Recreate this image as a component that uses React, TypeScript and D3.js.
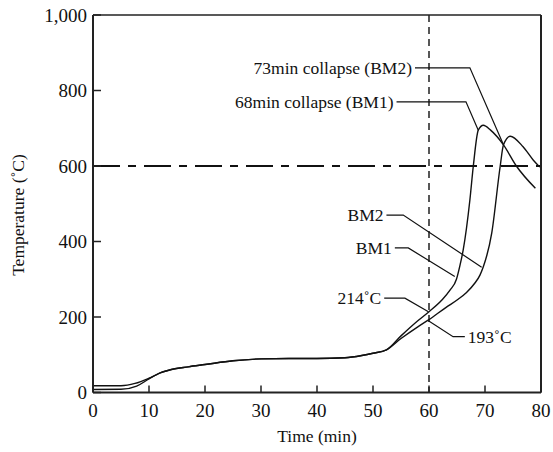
import React from "react";
import * as d3 from "d3";

const xTicks = [0, 10, 20, 30, 40, 50, 60, 70, 80];
const yTicks = [0, 200, 400, 600, 800, 1000];

const bm1Time = [0, 5, 7.5, 10, 12, 14, 17, 20, 25, 30, 35, 40, 45, 48, 50, 52.4, 55, 58, 60, 62.3, 63.75, 64.9, 65.5, 66.1, 67.3, 67.9, 68.8, 69.7, 71, 73.3, 75.6, 79];
const bm1Temp = [18, 18, 24, 38, 52, 61, 68, 74, 84, 89, 90, 90, 92, 98, 104, 113, 150, 190, 214, 245, 271, 300, 335, 377, 510, 598, 695, 708, 695, 656, 600, 541];

const bm2Time = [0, 5, 7.8, 10, 12, 14, 17, 20, 25, 30, 35, 40, 45, 48, 50, 52.4, 55, 58, 60, 63, 65.2, 66.7, 68.2, 69.1, 69.7, 71.2, 72.7, 73.3, 74.5, 76.8, 78.6, 79.8];
const bm2Temp = [8, 8.5, 17, 36, 52, 61, 68, 74, 84, 89, 90, 90, 92, 98, 104, 113, 143, 174, 193, 225, 247, 265, 290, 311, 333, 422, 598, 656, 679, 651, 616, 597];

// annotation labels: text and leader path in data units
const labelTexts = ["73min collapse (BM2)", "68min collapse (BM1)", "BM2", "BM1", "214˚C", "193˚C"];
const labelLeaders: number[][][] = [
  [[57.5, 860], [67.3, 860], [73.3, 656]],
  [[54.2, 770], [66.6, 770], [68.8, 695]],
  [[52.4, 470], [55.4, 470], [69.4, 332]],
  [[53.9, 383], [56.3, 383], [64.6, 307]],
  [[52.0, 250], [55.7, 250], [59.9, 214]],
  [[66.4, 148], [64.3, 148], [59.9, 190]],
];
const labelSide = ["end", "end", "end", "end", "end", "start"];

const refTime = 60;
const refTemp = 600;

export default function App() {
  const W = 553, H = 452;
  const x = d3.scaleLinear().domain([0, 80]).range([93, 541]);
  const y = d3.scaleLinear().domain([0, 1000]).range([392.5, 15]);
  const font = "'Liberation Serif', 'Times New Roman', serif";
  const col = "#111";

  const line = d3.line<[number, number]>().x(d => x(d[0])).y(d => y(d[1])).curve(d3.curveMonotoneX);
  const bm1 = bm1Time.map((t, i) => [t, bm1Temp[i]] as [number, number]);
  const bm2 = bm2Time.map((t, i) => [t, bm2Temp[i]] as [number, number]);
  const leader = d3.line<number[]>().x(d => x(d[0])).y(d => y(d[1]));

  const x0 = x(0), x1 = x(80), y0 = y(0), y1 = y(1000);

  return (
    <svg width={W} height={H} style={{ position: "absolute", left: 0, top: 0, background: "#fff" }}>
      <rect x={0} y={0} width={W} height={H} fill="#fff" />
      {/* reference lines */}
      <line x1={x(refTime)} x2={x(refTime)} y1={y1} y2={y0} stroke={col} strokeWidth={1.4} strokeDasharray="7,5" />
      <line x1={x0} x2={x1} y1={y(refTemp)} y2={y(refTemp)} stroke={col} strokeWidth={1.9} strokeDasharray="27,8,8,8" />
      {/* curves */}
      <path d={line(bm1) || ""} fill="none" stroke={col} strokeWidth={1.4} />
      <path d={line(bm2) || ""} fill="none" stroke={col} strokeWidth={1.4} />
      {/* leaders and labels */}
      {labelTexts.map((t, i) => {
        const pts = labelLeaders[i];
        const side = labelSide[i];
        const tx = side === "end" ? x(pts[0][0]) - 3 : x(pts[0][0]) + 3;
        return (
          <g key={t}>
            <path d={leader(pts) || ""} fill="none" stroke={col} strokeWidth={1.2} />
            <text x={tx} y={y(pts[0][1])} dy="0.35em" textAnchor={side} fontFamily={font} fontSize={17.5} fill={col}>{t}</text>
          </g>
        );
      })}
      {/* frame */}
      <line x1={x0} x2={x0} y1={y1} y2={y0} stroke="#222" strokeWidth={2} />
      <line x1={x0} x2={x1} y1={y0} y2={y0} stroke="#222" strokeWidth={2} />
      <line x1={x1} x2={x1} y1={y1} y2={y0} stroke="#222" strokeWidth={2} />
      <line x1={x0} x2={x1} y1={y1} y2={y1} stroke="#222" strokeWidth={1.6} />
      {/* y ticks */}
      {yTicks.map(v => (
        <g key={"y" + v}>
          <line x1={x0} x2={x0 + 8} y1={y(v)} y2={y(v)} stroke="#222" strokeWidth={1.5} />
          <text x={x0 - 6} y={y(v)} dy="0.35em" textAnchor="end" fontFamily={font} fontSize={19} fill={col}>{d3.format(",")(v)}</text>
        </g>
      ))}
      {/* x ticks */}
      {xTicks.map(v => (
        <g key={"x" + v}>
          <line x1={x(v)} x2={x(v)} y1={y0} y2={y0 - 7} stroke="#222" strokeWidth={1.5} />
          <text x={x(v)} y={y0 + 18} dy="0.35em" textAnchor="middle" fontFamily={font} fontSize={19} fill={col}>{v}</text>
        </g>
      ))}
      <text x={(x0 + x1) / 2} y={436} dy="0.35em" textAnchor="middle" fontFamily={font} fontSize={17.5} fill={col}>Time (min)</text>
      <text transform={`translate(18,215) rotate(-90)`} dy="0.35em" textAnchor="middle" fontFamily={font} fontSize={17.5} fill={col}>Temperature (˚C)</text>
    </svg>
  );
}
